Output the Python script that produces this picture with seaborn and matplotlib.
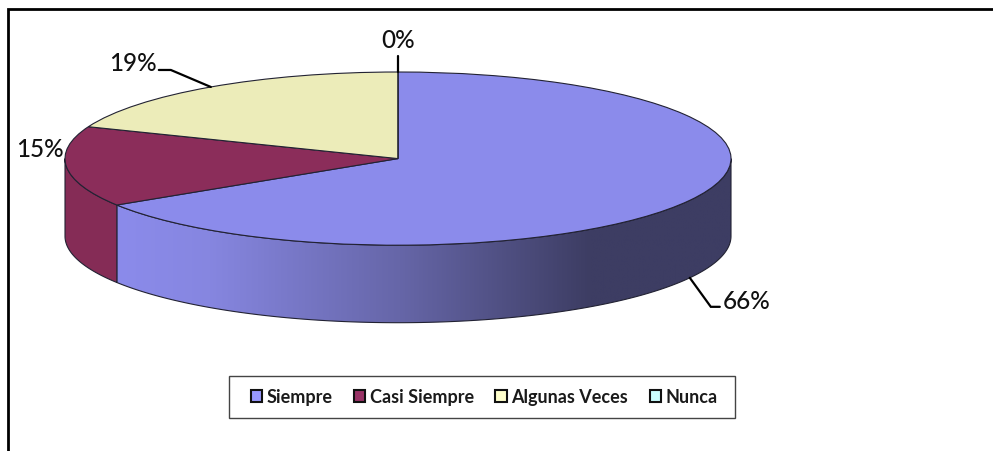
import numpy as np
import pandas as pd
import matplotlib
matplotlib.use('Agg')
import matplotlib.pyplot as plt
import seaborn as sns
from matplotlib.colors import LinearSegmentedColormap
from matplotlib.lines import Line2D
from matplotlib.patches import Patch, Polygon, Rectangle

categories = ['Siempre', 'Casi Siempre', 'Algunas Veces', 'Nunca']
values = [66, 15, 19, 0]
labels = ['66%', '15%', '19%', '0%']
top_colors = ['#8B8BEB', '#8B2D5A', '#ECECB9', '#BFEFEF']
legend_colors = ['#9999FF', '#993366', '#FFFFCC', '#CCFFFF']

sns.set_theme(style='white')
plt.rcParams['font.family'] = ['Lato', 'DejaVu Sans']

df = pd.DataFrame({'cat': categories, 'val': values})
W, H = 993, 452
CX, CY, RX, RY, DEPTH = 398, 159.6, 333, 86.6, 77.5

fig = plt.figure(figsize=(W / 100, H / 100), dpi=100)
ax = fig.add_axes([0, 0, 1, 1])

wedges, _ = ax.pie(df['val'], colors=top_colors, startangle=90, counterclock=False,
                   radius=1, center=(0, 0),
                   wedgeprops=dict(edgecolor='#222233', linewidth=0.8))
for w in wedges:
    w.set_zorder(5)
# pie forces equal aspect, squash it to the flat ellipse
ax.set_aspect('auto')
ax.axis('off')

d = DEPTH / RY
cum = np.cumsum(df['val']) / df['val'].sum() * 360


def wall(a0, a1):
    # clockwise degrees from the top, only the front half is visible
    a = np.radians(np.linspace(max(a0, 90), min(a1, 270), 200))
    xs, ys = np.sin(a), np.cos(a)
    return np.r_[xs, xs[::-1]], np.r_[ys, ys[::-1] - d]


# side of first slice, shaded left to right
xs, ys = wall(0, cum[0])
poly = Polygon(np.c_[xs, ys], closed=True, fc='none', ec='#222233', lw=0.8, zorder=3)
ax.add_patch(poly)
cmap = LinearSegmentedColormap.from_list('side', [(0, '#3D3D63'), (0.23, '#3D3D63'),
                                                  (0.54, '#6666A8'), (0.85, '#8686E0'),
                                                  (1, '#8B8BEB')])
im = ax.imshow(np.linspace(1, 0, 256)[None, :], cmap=cmap, vmin=0, vmax=1, aspect='auto',
               extent=(xs.min(), xs.max(), ys.min(), ys.max()), zorder=2)
im.set_clip_path(poly)

# side of second slice
xs, ys = wall(cum[0], cum[1])
ax.add_patch(Polygon(np.c_[xs, ys], closed=True, fc='#852C56', ec='#222233', lw=0.8, zorder=3))

ax.set_xlim(-CX / RX, (W - CX) / RX)
ax.set_ylim((CY - H) / RY, CY / RY)


def mid(i):
    a = np.radians(cum[i] - values[i] * 3.6 / 2)
    return np.sin(a), np.cos(a)


def ox(dx):
    return dx / RX


def oy(dy):
    return -dy / RY


lk = dict(color='black', lw=1.6, solid_joinstyle='miter', zorder=6, clip_on=False)
tk = dict(fontsize=17.5, fontweight='medium', color='#111111', zorder=7)

# 66%
x, y = mid(0)
y -= d
ax.plot([x, x + ox(21), x + ox(30)], [y, y + oy(29), y + oy(29)], **lk)
ax.text(x + ox(33), y + oy(23), labels[0], ha='left', va='center', **tk)
# 15%, no leader line
x, y = mid(1)
ax.text(x + ox(-3), y + oy(-18), labels[1], ha='right', va='center', **tk)
# 19%
x, y = mid(2)
ax.plot([x, x + ox(-40), x + ox(-52)], [y, y + oy(-17), y + oy(-17)], **lk)
ax.text(x + ox(-54), y + oy(-24), labels[2], ha='right', va='center', **tk)
# 0%
x, y = 0, 1
ax.plot([x, x], [y, y + oy(-16)], **lk)
ax.text(x, y + oy(-33), labels[3], ha='center', va='center', **tk)

handles = [Patch(fc=c, ec='#111111', lw=1.5) for c in legend_colors]
leg = ax.legend(handles, categories, loc='center', ncol=4,
                bbox_to_anchor=(484 / W, 1 - 398 / H), bbox_transform=fig.transFigure,
                frameon=False, prop=dict(size=13, weight='bold'),
                handlelength=0.62, handleheight=0.62,
                handletextpad=0.25, columnspacing=1.2, borderpad=0, borderaxespad=0)
leg.set_zorder(8)
for t in leg.get_texts():
    t.set_color('#1A1A1A')

# legend box, wider than the entries
fig.add_artist(Rectangle((229 / W, 1 - 419 / H), 506 / W, 42 / H, fc='none', ec='#444444', lw=1.0,
                         transform=fig.transFigure))

# outer frame of the screenshot, cut off on right and bottom
fig.add_artist(Line2D([8 / W, 8 / W, 1], [0, 1 - 10 / H, 1 - 10 / H], color='black', lw=2,
                      solid_joinstyle='miter'))

fig.savefig('out.png', dpi=100, facecolor='white')
